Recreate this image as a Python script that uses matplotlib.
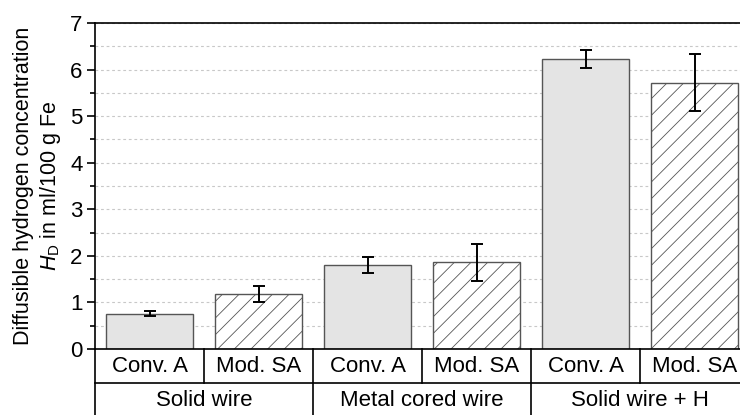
import matplotlib.pyplot as plt
import matplotlib.transforms as mtransforms
import numpy as np

plt.rcParams['font.family'] = ['Liberation Sans', 'DejaVu Sans']
plt.rcParams['mathtext.fontset'] = 'custom'
plt.rcParams['mathtext.rm'] = 'Liberation Sans'
plt.rcParams['mathtext.it'] = 'Liberation Sans:italic'
plt.rcParams['hatch.color'] = '#6a6a6a'
plt.rcParams['hatch.linewidth'] = 0.6

# diffusible hydrogen, mean and scatter per wire / process
groups = ['Solid wire', 'Metal cored wire', 'Solid wire + H']
processes = ['Conv. A', 'Mod. SA']
conv_a = [0.76, 1.80, 6.23]
conv_a_err = [0.05, 0.165, 0.20]
mod_sa = [1.18, 1.86, 5.72]
mod_sa_err = [0.165, 0.40, 0.62]

x = np.arange(len(groups)) * 2
fs = 16

fig = plt.figure(figsize=(7.4, 4.15), dpi=100)
ax = fig.add_axes([95 / 740, 66 / 415, 654 / 740, 326 / 415])

ax.bar(x, conv_a, width=0.8, color='#e4e4e4', edgecolor='#555555', linewidth=1.0, zorder=2)
ax.bar(x + 1, mod_sa, width=0.8, color='white', edgecolor='#555555', linewidth=1.0,
       hatch='//', zorder=2)
ax.errorbar(x, conv_a, yerr=conv_a_err, fmt='none', ecolor='black', elinewidth=1.4,
            capsize=4, capthick=1.4, zorder=3)
ax.errorbar(x + 1, mod_sa, yerr=mod_sa_err, fmt='none', ecolor='black', elinewidth=1.4,
            capsize=4, capthick=1.4, zorder=3)

ax.set_xlim(-0.5, 5.5)
ax.set_ylim(0, 7)
ax.set_yticks(np.arange(0, 8, 1))
ax.set_yticks(np.arange(0.5, 7, 1), minor=True)
ax.set_xticks([])
ax.tick_params(axis='y', which='major', direction='out', length=6, width=1.2,
               labelsize=fs, pad=3)
ax.tick_params(axis='y', which='minor', direction='out', length=3.5, width=1.2)
ax.grid(axis='y', which='both', linestyle=(0, (2.5, 2.5)), color='#c8c8c8',
        linewidth=0.8, zorder=0)
ax.set_axisbelow(True)
for s in ['left', 'top', 'bottom']:
    ax.spines[s].set_linewidth(1.2)
ax.spines['right'].set_visible(False)

ax.set_ylabel('Diffusible hydrogen concentration\n$H_\\mathrm{D}$ in ml/100 g Fe',
              fontsize=15.5, linespacing=1.2, labelpad=5)

# two-row category table below the axis
trans = mtransforms.blended_transform_factory(ax.transData, ax.transAxes)
row1 = -34 / 326
row2 = -70 / 326
line_kw = dict(color='black', linewidth=1.2, transform=trans, clip_on=False)
ax.plot([-0.5, 5.5], [row1, row1], **line_kw)
ax.plot([-0.5, -0.5], [0, row2], **line_kw)
for xb in [0.5, 2.5, 4.5]:
    ax.plot([xb, xb], [0, row1], **line_kw)
for xb in [1.5, 3.5]:
    ax.plot([xb, xb], [0, row2], **line_kw)

for i in range(len(groups)):
    for j, p in enumerate(processes):
        ax.text(x[i] + j, row1 / 2, p, transform=trans, ha='center', va='center',
                fontsize=fs)
    ax.text(x[i] + 0.5, (row1 + row2) / 2 + 0.002, groups[i], transform=trans,
            ha='center', va='center', fontsize=fs)

fig.savefig('out.png', dpi=100)
